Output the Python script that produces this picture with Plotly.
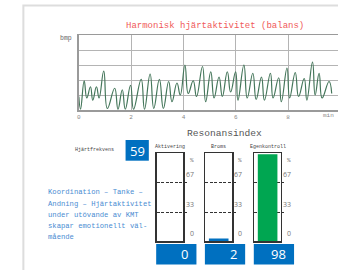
import plotly.graph_objects as go

W, H = 338, 270

def px(x):
    return x / W

def py(y):
    return 1 - y / H

# ---------------- data ----------------
title_text = "Harmonisk hjärtaktivitet (balans)"
y_unit = "bmp"
x_unit = "min"
x_ticks = [0, 2, 4, 6, 8]

time_min = [0.00, 0.065, 0.204, 0.305, 0.445, 0.534, 0.673, 0.774, 0.952, 1.091,
            1.370, 1.497, 1.662, 1.776, 1.978, 2.092, 2.384, 2.511, 2.726, 2.866,
            3.081, 3.233, 3.436, 3.563, 3.753, 3.880, 4.057, 4.184, 4.374, 4.501,
            4.729, 4.850, 5.046, 5.172, 5.362, 5.489, 5.679, 5.806, 5.996, 6.085,
            6.313, 6.440, 6.655, 6.782, 6.985, 7.099, 7.327, 7.428, 7.644, 7.745,
            7.961, 8.062, 8.278, 8.404, 8.620, 8.721, 8.937, 9.038, 9.190, 9.304,
            9.570, 9.672]
hr_bpm = [58, 41, 79, 56, 71, 53, 71, 56, 92, 42,
          69, 41, 67, 41, 73, 41, 81, 41, 88, 42,
          81, 42, 78, 51, 76, 60, 100, 62, 79, 58,
          98, 51, 91, 56, 84, 58, 91, 64, 91, 53,
          100, 56, 89, 54, 84, 53, 89, 56, 83, 51,
          96, 56, 90, 58, 82, 53, 104, 60, 89, 56,
          78, 62]

section_title = "Resonansindex"
hr_label = "Hjärtfrekvens"
heart_rate = 59
bar_names = ["Aktivering", "Broms", "Egenkontroll"]
bar_values = [0, 2, 98]
bar_colors = ["#0070c0", "#0070c0", "#00a651"]
level_values = [0, 33, 67]
level_labels = ["0", "33", "67"]
side_text = ["Koordination – Tanke –",
             "Andning – Hjärtaktivitet",
             "under utövande av KMT",
             "skapar emotionellt väl-",
             "mående"]

MONO = "Liberation Mono, Courier New, monospace"
SANS = "Open Sans, Liberation Sans, Arial, sans-serif"

fig = go.Figure()
shapes = []
annotations = []

# outer light border
shapes.append(dict(type="rect", xref="paper", yref="paper",
                   x0=px(21.5), x1=1.5, y0=-0.5, y1=py(5.5),
                   line=dict(color="#dddddd", width=2), fillcolor="rgba(0,0,0,0)",
                   layer="below"))

# ---------------- waveform ----------------
fig.add_trace(go.Scatter(x=time_min, y=hr_bpm, mode="lines",
                         line=dict(color="#44765a", width=1.2, shape="spline", smoothing=1.3),
                         xaxis="x", yaxis="y", showlegend=False, hoverinfo="skip"))

layout = dict(
    width=W, height=H, margin=dict(l=0, r=0, t=0, b=0),
    paper_bgcolor="white", plot_bgcolor="white", showlegend=False,
    xaxis=dict(domain=[px(77.3), 1.0], range=[0, (W - 77.3) / 26.3],
               tickvals=x_ticks, ticktext=[str(t) for t in x_ticks],
               showgrid=True, gridcolor="#b4b4b4", gridwidth=1,
               showline=True, mirror=True, linecolor="#9a9a9a", linewidth=1.5,
               ticks="", tickfont=dict(family=MONO, size=6, color="#888"),
               zeroline=False, fixedrange=True, anchor="y"),
    yaxis=dict(domain=[py(110), py(35)], range=[40, 140], dtick=20,
               showgrid=True, gridcolor="#b4b4b4", gridwidth=1,
               showline=True, mirror=False, linecolor="#9a9a9a", linewidth=1.5,
               showticklabels=False, zeroline=False, fixedrange=True, anchor="x"),
)

annotations.append(dict(text=title_text, xref="paper", yref="paper",
                        x=px(213.8), y=py(25.7), xanchor="center", yanchor="middle",
                        showarrow=False, font=dict(family=MONO, size=9, color="#f05a5a")))
annotations.append(dict(text=y_unit, xref="paper", yref="paper",
                        x=px(72), y=py(39), xanchor="right", yanchor="middle",
                        showarrow=False, font=dict(family=MONO, size=6.5, color="#666")))
annotations.append(dict(text=x_unit, xref="paper", yref="paper",
                        x=px(336), y=py(115.5), xanchor="right", yanchor="middle",
                        showarrow=False, font=dict(family=MONO, size=6, color="#888")))

# ---------------- resonance index ----------------
annotations.append(dict(text=section_title, xref="paper", yref="paper",
                        x=px(224), y=py(133), xanchor="center", yanchor="middle",
                        showarrow=False, font=dict(family=MONO, size=9.6, color="#555")))
annotations.append(dict(text=hr_label, xref="paper", yref="paper",
                        x=px(115), y=py(150), xanchor="right", yanchor="middle",
                        showarrow=False, font=dict(family=MONO, size=5, color="#444")))
shapes.append(dict(type="rect", xref="paper", yref="paper",
                   x0=px(124.3), x1=px(147.7), y0=py(160.7), y1=py(140),
                   fillcolor="#0070c0", line=dict(width=0)))
annotations.append(dict(text=str(heart_rate), xref="paper", yref="paper",
                        x=px(136), y=py(150.5), xanchor="center", yanchor="middle",
                        showarrow=False, font=dict(family=SANS, size=13, color="white")))

for k, line in enumerate(side_text):
    annotations.append(dict(text=line, xref="paper", yref="paper",
                            x=px(44), y=py(192.5 + 11 * k), xanchor="left", yanchor="middle",
                            showarrow=False, font=dict(family=MONO, size=7.2, color="#4a8cd2")))

frame_left = [155.6, 204.6, 253.8]
frame_w = 26.8
for i, (name, val, col) in enumerate(zip(bar_names, bar_values, bar_colors)):
    n = i + 2
    xa, ya = f"x{n}", f"y{n}"
    fx = frame_left[i]
    fig.add_trace(go.Bar(x=[0], y=[val], width=0.68,
                         marker=dict(color=col, line=dict(color=col, width=1.5 if val > 0 else 0)),
                         xaxis=xa, yaxis=ya, showlegend=False, hoverinfo="skip"))
    layout[f"xaxis{n}"] = dict(domain=[px(fx), px(fx + frame_w)], range=[-0.5, 0.5],
                               showline=True, mirror=True, linecolor="#333", linewidth=1.5,
                               showticklabels=False, showgrid=False, zeroline=False,
                               ticks="", fixedrange=True, anchor=ya)
    layout[f"yaxis{n}"] = dict(domain=[py(241), py(153.3)], range=[0, 100],
                               tickvals=[33, 67], showgrid=True, gridcolor="#333",
                               griddash="3px,1.5px", gridwidth=1,
                               showline=True, mirror=True, linecolor="#333", linewidth=1.5,
                               side="right", ticks="outside", ticklen=2, tickcolor="#333",
                               showticklabels=False, zeroline=False, fixedrange=True, anchor=xa)
    annotations.append(dict(text=name, xref="paper", yref="paper",
                            x=px(fx + frame_w / 2), y=py(146.7), xanchor="center", yanchor="middle",
                            showarrow=False, font=dict(family=MONO, size=5, color="#444")))
    for lv, lt in zip(level_values, level_labels):
        annotations.append(dict(text=lt, xref="paper", yref=ya, x=px(fx + frame_w + 12.5), y=lv,
                                xanchor="right", yanchor="middle", yshift=8, showarrow=False,
                                font=dict(family=SANS, size=7, color="#777")))
    annotations.append(dict(text="%", xref="paper", yref=ya, x=px(fx + frame_w + 12.5), y=100,
                            xanchor="right", yanchor="middle", yshift=-7, showarrow=False,
                            font=dict(family=MONO, size=6, color="#777")))
    # value box
    shapes.append(dict(type="rect", xref="paper", yref="paper",
                       x0=px(fx - 0.5), x1=px(fx + 40), y0=py(264.5), y1=py(244),
                       fillcolor="#0070c0", line=dict(width=0)))
    annotations.append(dict(text=str(val), xref="paper", yref="paper",
                            x=px(fx + 34), y=py(254.5), xanchor="right", yanchor="middle",
                            showarrow=False, font=dict(family=SANS, size=13, color="white")))

layout["shapes"] = shapes
layout["annotations"] = annotations
layout["bargap"] = 0
fig.update_layout(**layout)

fig.write_html("out.html", config={"displayModeBar": False, "staticPlot": True},
               post_script="document.body.style.margin='0';document.body.style.overflow='hidden';")
